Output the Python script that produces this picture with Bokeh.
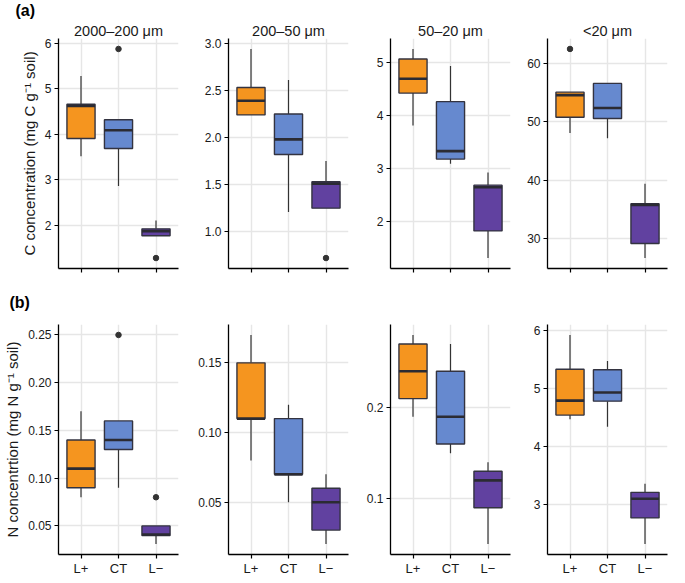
from bokeh.plotting import figure
from bokeh.layouts import column, row
from bokeh.models import (FactorRange, Range1d, FixedTicker, NumeralTickFormatter,
                          Title, Label, CustomLabelingPolicy)
from bokeh.embed import file_html
from bokeh.resources import INLINE

groups = ["L+", "CT", "L\u2212"]
fractions = ["2000\u2013200 \u03bcm", "200\u201350 \u03bcm", "50\u201320 \u03bcm", "<20 \u03bcm"]
colors = ["#F5951F", "#6689CF", "#6141A0"]

# C concentration: (lower whisker, Q1, median, Q3, upper whisker) per group
C_2000_200 = [[3.52, 2.87, 1.78], [3.91, 3.69, 1.78], [4.62, 4.09, 1.88], [4.66, 4.32, 1.93], [5.28, 4.32, 2.11]]
C_200_50 = [[2.24, 1.21, 1.25], [2.24, 1.82, 1.25], [2.39, 1.98, 1.51], [2.53, 2.25, 1.53], [2.94, 2.61, 1.75]]
C_50_20 = [[3.81, 3.09, 1.32], [4.42, 3.18, 1.83], [4.69, 3.33, 2.65], [5.06, 4.26, 2.69], [5.25, 4.93, 2.93]]
C_lt20 = [[48.1, 47.2, 26.7], [50.8, 50.6, 29.2], [54.6, 52.4, 35.8], [55.1, 56.6, 36.0], [55.1, 56.6, 39.4]]
C_outlier_groups = [["CT", "L\u2212"], ["L\u2212"], [], ["L+"]]
C_outlier_values = [[5.87, 1.29], [0.72], [], [62.5]]

# N concentration
N_2000_200 = [[0.08, 0.09, 0.031], [0.09, 0.13, 0.04], [0.11, 0.14, 0.041], [0.14, 0.16, 0.05], [0.17, 0.16, 0.05]]
N_200_50 = [[0.08, 0.05, 0.02], [0.11, 0.07, 0.03], [0.11, 0.07, 0.05], [0.15, 0.11, 0.06], [0.17, 0.12, 0.07]]
N_50_20 = [[0.19, 0.15, 0.05], [0.21, 0.16, 0.09], [0.24, 0.19, 0.12], [0.27, 0.24, 0.13], [0.28, 0.27, 0.14]]
N_lt20 = [[4.47, 4.34, 2.32], [4.54, 4.78, 2.77], [4.79, 4.93, 3.10], [5.33, 5.32, 3.21], [5.92, 5.47, 3.36]]
N_outlier_groups = [["CT", "L\u2212"], [], [], []]
N_outlier_values = [[0.25, 0.08], [], [], []]

C_ticks = [[2, 3, 4, 5, 6], [1.0, 1.5, 2.0, 2.5, 3.0], [2, 3, 4, 5], [30, 40, 50, 60]]
C_formats = ["0", "0.0", "0", "0"]
N_ticks = [[0.05, 0.10, 0.15, 0.20, 0.25], [0.05, 0.10, 0.15], [0.1, 0.2], [3, 4, 5, 6]]
N_formats = ["0.00", "0.00", "0.0", "0"]

C_label = "C concentration (mg C g\u207b\u00b9 soil)"
N_label = "N concentrtion (mg N g\u207b\u00b9 soil)"
row_tags = ["(a)", "(b)"]

FONT = "Liberation Sans"
FW = 120
FH = 230
LEFT = [58, 46, 38, 33]
RIGHT = [4, 4, 4, 2]
TOP = [17, 12]
BOTTOM = [16, 22]
TOTAL_W = sum(LEFT) + sum(RIGHT) + 4 * FW
HEADER_H = [20, 20]
TAG_POS = [(15, 10), (9, 10)]


def header(r):
    h = figure(width=TOTAL_W, height=HEADER_H[r], x_range=Range1d(0, 1), y_range=Range1d(0, 1),
               min_border=0, min_border_left=0, min_border_right=0, min_border_top=0,
               min_border_bottom=0, title=None, output_backend="svg", toolbar_location=None)
    h.axis.visible = False
    h.grid.visible = False
    h.outline_line_color = None
    h.background_fill_color = "white"
    h.border_fill_color = "white"
    tx, ty = TAG_POS[r]
    h.add_layout(Label(x=tx, y=ty, x_units="screen", y_units="screen",
                       text=row_tags[r], text_font=FONT, text_font_size="16px",
                       text_font_style="bold", text_color="black",
                       text_baseline="middle", text_align="left"))
    return h


def panel(stats, og, ov, ticks, fmt, col, r):
    lows, q1, med, q3, highs = stats
    allv = lows + highs + ov
    lo, hi = min(allv), max(allv)
    pad = 0.05 * (hi - lo)
    p = figure(x_range=FactorRange(*groups, range_padding=0.2 / 3),
               y_range=Range1d(lo - pad, hi + pad),
               frame_width=FW, frame_height=FH, title=None,
               min_border_left=LEFT[col], min_border_right=RIGHT[col],
               min_border_top=TOP[r], min_border_bottom=BOTTOM[r],
               output_backend="svg", toolbar_location=None)
    p.outline_line_color = None
    p.background_fill_color = "white"
    p.border_fill_color = "white"

    p.segment(x0=groups, y0=q3, x1=groups, y1=highs, line_color="#333333", line_width=1.2)
    p.segment(x0=groups, y0=lows, x1=groups, y1=q1, line_color="#333333", line_width=1.2)
    p.vbar(x=groups, width=0.75, bottom=q1, top=q3, fill_color=colors,
           line_color="#333340", line_width=1.4)
    p.rect(x=groups, y=med, width=0.75, height=2.6, height_units="screen",
           fill_color="#2b2b33", line_color=None)
    if og:
        p.scatter(x=og, y=ov, size=5.5, color="#333333")

    p.yaxis.ticker = FixedTicker(ticks=ticks)
    p.yaxis.formatter = NumeralTickFormatter(format=fmt)
    p.xgrid.grid_line_color = "#E6E6E6"
    p.ygrid.grid_line_color = "#E6E6E6"
    p.xgrid.grid_line_width = 1.4
    p.ygrid.grid_line_width = 1.4
    for ax in (p.xaxis[0], p.yaxis[0]):
        ax.axis_line_color = "black"
        ax.axis_line_width = 1.3
        ax.major_tick_line_color = "black"
        ax.major_tick_line_width = 1.2
        ax.major_tick_in = 0
        ax.major_tick_out = 4
        ax.minor_tick_line_color = None
        ax.major_label_text_font = FONT
        ax.major_label_text_font_size = "12px"
        ax.major_label_text_color = "#1a1a1a"
        ax.major_label_standoff = 3
    p.xaxis.major_label_standoff = 2
    p.xaxis.major_label_text_font_size = "13px"
    if r == 0:
        # ticks without labels on the top row (shared x axis)
        p.xaxis.major_label_policy = CustomLabelingPolicy(code="return []")
        p.add_layout(Title(text=fractions[col], align="center", text_font=FONT,
                           text_font_size="14.5px", text_font_style="normal",
                           text_color="#1a1a1a", standoff=0), "above")
    if col == 0:
        p.yaxis.axis_label = C_label if r == 0 else N_label
        p.yaxis.axis_label_text_font = FONT
        p.yaxis.axis_label_text_font_size = "15px"
        p.yaxis.axis_label_text_font_style = "normal"
        p.yaxis.axis_label_text_color = "#1a1a1a"
        p.yaxis.axis_label_standoff = 4
    return p


C_stats = [C_2000_200, C_200_50, C_50_20, C_lt20]
N_stats = [N_2000_200, N_200_50, N_50_20, N_lt20]

row1 = [panel(C_stats[i], C_outlier_groups[i], C_outlier_values[i], C_ticks[i], C_formats[i], i, 0) for i in range(4)]
row2 = [panel(N_stats[i], N_outlier_groups[i], N_outlier_values[i], N_ticks[i], N_formats[i], i, 1) for i in range(4)]

layout = column(header(0), row(*row1), header(1), row(*row2))
open("out.html", "w").write(file_html(layout, INLINE))
